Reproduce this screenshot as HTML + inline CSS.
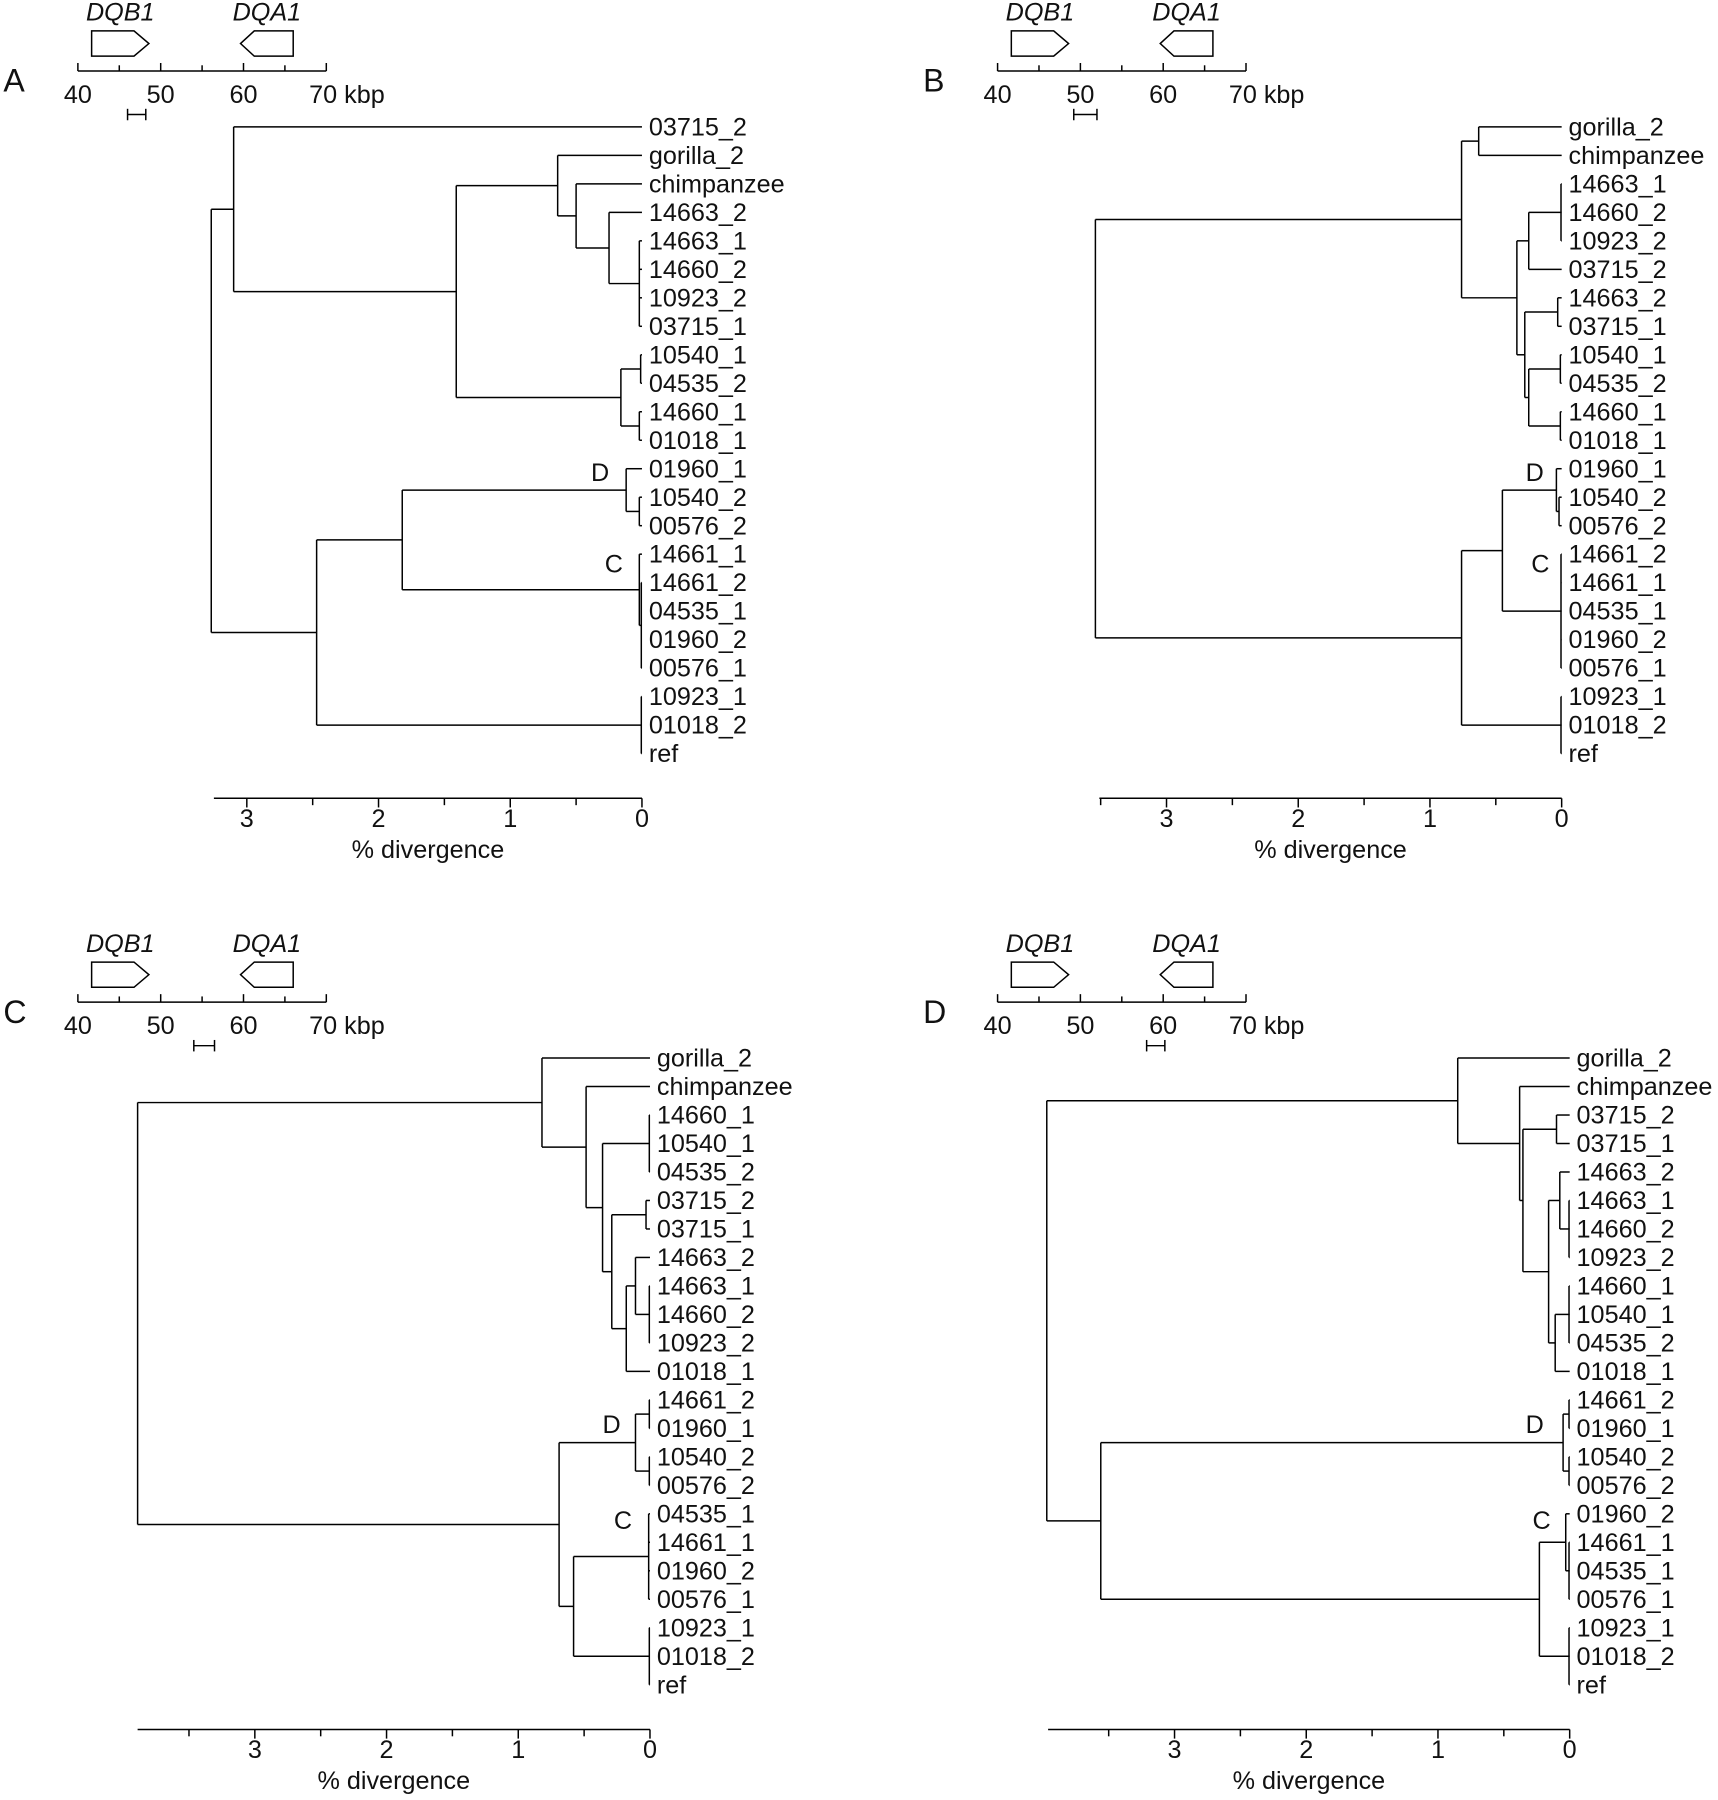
<!DOCTYPE html>
<html><head><meta charset="utf-8"><title>HLA-DQ phylogenies</title>
<style>
html,body{margin:0;padding:0;background:#fff;}
svg{display:block;font-family:"Liberation Sans",Arial,sans-serif;}
</style></head>
<body>
<svg id="fig" width="1718" height="1800" viewBox="0 0 1500 1571.6" preserveAspectRatio="none" xmlns="http://www.w3.org/2000/svg"></svg>
<script>
// ---- data ----
const leavesA = ["03715_2","gorilla_2","chimpanzee","14663_2","14663_1","14660_2","10923_2","03715_1","10540_1","04535_2","14660_1","01018_1","01960_1","10540_2","00576_2","14661_1","14661_2","04535_1","01960_2","00576_1","10923_1","01018_2","ref"];
const leavesB = ["gorilla_2","chimpanzee","14663_1","14660_2","10923_2","03715_2","14663_2","03715_1","10540_1","04535_2","14660_1","01018_1","01960_1","10540_2","00576_2","14661_2","14661_1","04535_1","01960_2","00576_1","10923_1","01018_2","ref"];
const leavesC = ["gorilla_2","chimpanzee","14660_1","10540_1","04535_2","03715_2","03715_1","14663_2","14663_1","14660_2","10923_2","01018_1","14661_2","01960_1","10540_2","00576_2","04535_1","14661_1","01960_2","00576_1","10923_1","01018_2","ref"];
const leavesD = ["gorilla_2","chimpanzee","03715_2","03715_1","14663_2","14663_1","14660_2","10923_2","14660_1","10540_1","04535_2","01018_1","14661_2","01960_1","10540_2","00576_2","01960_2","14661_1","04535_1","00576_1","10923_1","01018_2","ref"];
// node heights (% divergence), leaves are row indices
const treeA = {h:3.27,c:[{h:3.10,c:[0,{h:1.41,c:[{h:0.64,c:[1,{h:0.50,c:[2,{h:0.25,c:[3,{h:0.02,c:[4,5,6,7]}]}]}]},{h:0.16,c:[{h:0.01,c:[8,9]},{h:0.02,c:[10,11]}]}]}]},{h:2.47,c:[{h:1.82,c:[{h:0.12,c:[12,{h:0.02,c:[13,14]}]},{h:0.02,c:[15,{h:0.005,c:[16,17,18,19]}]}]},{h:0.005,c:[20,21,22]}]}]};
const treeB = {h:3.54,c:[{h:0.76,c:[{h:0.63,c:[0,1]},{h:0.34,c:[{h:0.25,c:[{h:0.005,c:[2,3,4]},5]},{h:0.28,c:[{h:0.03,c:[6,7]},{h:0.25,c:[{h:0.01,c:[8,9]},{h:0.01,c:[10,11]}]}]}]}]},{h:0.76,c:[{h:0.45,c:[{h:0.04,c:[12,{h:0.02,c:[13,14]}]},{h:0.005,c:[15,16,17,18,19]}]},{h:0.005,c:[20,21,22]}]}]};
const treeC = {h:3.89,c:[{h:0.82,c:[0,{h:0.485,c:[1,{h:0.36,c:[{h:0.005,c:[2,3,4]},{h:0.29,c:[{h:0.03,c:[5,6]},{h:0.18,c:[{h:0.11,c:[7,{h:0.005,c:[8,9,10]}]},11]}]}]}]}]},{h:0.69,c:[{h:0.11,c:[{h:0.005,c:[12,13]},{h:0.005,c:[14,15]}]},{h:0.58,c:[{h:0.01,c:[16,17,18,19]},{h:0.005,c:[20,21,22]}]}]}]};
const treeD = {h:3.97,c:[{h:0.85,c:[0,{h:0.38,c:[1,{h:0.355,c:[{h:0.10,c:[2,3]},{h:0.16,c:[{h:0.075,c:[4,{h:0.005,c:[5,6,7]}]},{h:0.11,c:[{h:0.005,c:[8,9,10]},11]}]}]}]}]},{h:3.56,c:[{h:0.05,c:[{h:0.005,c:[12,13]},{h:0.005,c:[14,15]}]},{h:0.23,c:[{h:0.03,c:[16,{h:0.005,c:[17,18,19]}]},{h:0.005,c:[20,21,22]}]}]}]};
const axisMaxA = 3.25, axisMaxB = 3.51, axisMaxC = 3.89, axisMaxD = 3.96;
const majorTicks = [0,1,2,3];
const minorTicks = [0.5,1.5,2.5,3.5];
const kbpTicks = [40,45,50,55,60,65,70];
const kbpLabels = [40,50,60];
const windowA = [46,48.2], windowB = [49.2,52], windowC = [54,56.5], windowD = [58,60.2];

// ---- drawing ----
const NS="http://www.w3.org/2000/svg";
const svg=document.getElementById('fig');
function mk(tag,attrs,parent){const e=document.createElementNS(NS,tag);for(const k in attrs)e.setAttribute(k,attrs[k]);(parent||svg).appendChild(e);return e;}
function line(g,x1,y1,x2,y2,name){const e=mk('line',{x1:x1,y1:y1,x2:x2,y2:y2,stroke:'#000','stroke-width':1.3},g);


return e;}
function text(g,x,y,s,name,extra){const e=mk('text',Object.assign({x:x,y:y,'font-size':22,fill:'#111'},extra||{}),g);e.textContent=s;


return e;}

function panel(ox,oy,letter,leaves,tree,axisMax,win,labD,labC){
  const g=mk('g',{transform:'translate('+ox+','+oy+')'});
  
  
  const x0=(letter==='A'||letter==='B')?560.5:567.5, unit=115;
  const X=h=>x0-h*unit;
  const rowY=i=>110.8+i*24.87;
  // panel letter
  text(g,3,80,letter,'panel-letter',{'font-size':28});
  // gene map
  const kx=k=>68+(k-40)*7.23;
  line(g,kx(40),62,kx(70),62,'kbp-axis-line');
  kbpTicks.forEach(k=>{const major=(k%10===0);line(g,kx(k),major?55:57,kx(k),62,'kbp-tick');});
  kbpLabels.forEach(k=>text(g,kx(k),90,String(k),'kbp-tick-label',{'text-anchor':'middle'}));
  text(g,kx(70)-15,90,'70 kbp','kbp-tick-label');
  const dqb=mk('path',{d:'M80,27 L117,27 L130,38 L117,49 L80,49 Z',fill:'none',stroke:'#000','stroke-width':1.3},g);
  
  
  const dqa=mk('path',{d:'M256,27 L222,27 L210,38 L222,49 L256,49 Z',fill:'none',stroke:'#000','stroke-width':1.3},g);
  
  
  text(g,105,18,'DQB1','dqb1-label',{'text-anchor':'middle','font-style':'italic'});
  text(g,233,18,'DQA1','dqa1-label',{'text-anchor':'middle','font-style':'italic'});
  line(g,kx(win[0]),100,kx(win[1]),100,'window-bar');
  line(g,kx(win[0]),95,kx(win[0]),105,'window-bar-end');
  line(g,kx(win[1]),95,kx(win[1]),105,'window-bar-end');
  // tree
  function draw(n){
    if(typeof n==='number') return {y:rowY(n),x:X(0)};
    const ch=n.c.map(draw);
    const x=X(n.h);
    const y1=ch[0].y,y2=ch[ch.length-1].y;
    line(g,x,y1,x,y2,'tree-vertical-branch');
    ch.forEach(c=>line(g,x,c.y,c.x,c.y,'tree-horizontal-branch'));
    return {y:(y1+y2)/2,x:x};
  }
  draw(tree);
  leaves.forEach((s,i)=>text(g,X(0)+6,rowY(i)+7.5,s,'leaf-label'));
  text(g,labD[0],labD[1],'D','clade-d-label');
  text(g,labC[0],labC[1],'C','clade-c-label');
  // divergence axis
  const ay=697;
  line(g,X(axisMax),ay,X(0),ay,'divergence-axis-line');
  majorTicks.forEach(t=>{line(g,X(t),ay,X(t),ay+8,'divergence-tick');text(g,X(t),ay+25,String(t),'divergence-tick-label',{'text-anchor':'middle'});});
  minorTicks.filter(t=>t<=axisMax).forEach(t=>line(g,X(t),ay,X(t),ay+6,'divergence-minor-tick'));
  text(g,(X(axisMax)+X(0))/2,ay+52,'% divergence','x-axis-title',{'text-anchor':'middle'});
}
panel(0,0,'A',leavesA,treeA,axisMaxA,windowA,[516,420],[528,500]);
panel(803,0,'B',leavesB,treeB,axisMaxB,windowB,[529,420],[534,500]);
panel(0,813,'C',leavesC,treeC,axisMaxC,windowC,[526,438],[536,522]);
panel(803,813,'D',leavesD,treeD,axisMaxD,windowD,[529,438],[535,522]);
</script>
</body></html>
